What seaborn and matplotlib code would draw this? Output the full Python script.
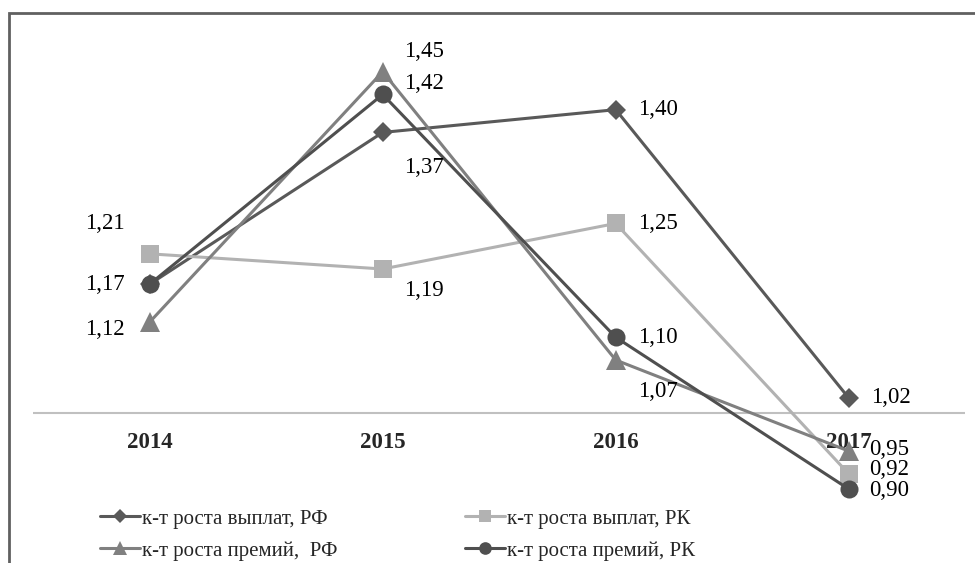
import pandas as pd
import numpy as np
import seaborn as sns
import matplotlib.pyplot as plt
from matplotlib.patches import Rectangle

# data
years = ['2014', '2015', '2016', '2017']
pay_rf = [1.17, 1.37, 1.40, 1.02]
pay_rk = [1.21, 1.19, 1.25, 0.92]
bonus_rf = [1.12, 1.45, 1.07, 0.95]
bonus_rk = [1.17, 1.42, 1.10, 0.90]
series_names = ['к-т роста выплат, РФ', 'к-т роста выплат, РК',
                'к-т роста премий,  РФ', 'к-т роста премий, РК']

sns.set_style('white')
plt.rcParams['font.family'] = ['Liberation Serif', 'DejaVu Serif']

fig = plt.figure(figsize=(9.75, 5.63), dpi=100)
ax = fig.add_axes([0.034, 0.064, 0.956, 0.876])

# style per series: color, marker, marker size
styles = [('#595959', 'D', 10),
          ('#b2b2b2', 's', 13),
          ('#808080', '^', 14),
          ('#4f4f4f', 'o', 13)]
values = [pay_rf, pay_rk, bonus_rf, bonus_rk]

x = np.arange(len(years))
for name, vals, (col, mk, ms) in zip(series_names, values, styles):
    df = pd.DataFrame({'x': x, 'y': vals})
    sns.lineplot(data=df, x='x', y='y', ax=ax, color=col, marker=mk,
                 markersize=ms, markeredgewidth=0, linewidth=2.2,
                 label=name, legend=False)

# data labels: (series index, point index, dx px, dy px, ha)
label_pos = [(0, 1, 21, 35, 'left'), (0, 2, 22, 0, 'left'), (0, 3, 22, 0, 'left'),
             (1, 0, -25, -30, 'right'), (1, 1, 21, 22, 'left'), (1, 2, 22, 0, 'left'),
             (1, 3, 20, -4, 'left'),
             (2, 0, -25, 7, 'right'), (2, 1, 21, -20, 'left'), (2, 2, 22, 31, 'left'),
             (2, 3, 20, -2, 'left'),
             (3, 0, -25, 0, 'right'), (3, 1, 21, -11, 'left'), (3, 2, 22, 0, 'left'),
             (3, 3, 20, 1, 'left')]
for si, pi, dx, dy, ha in label_pos:
    v = values[si][pi]
    ax.annotate(f'{v:.2f}'.replace('.', ','), (x[pi], v),
                xytext=(dx * 0.72, -dy * 0.72), textcoords='offset points',
                ha=ha, va='center', fontsize=16.5, color='black')

ax.axhline(1.0, color='#c0c0c0', linewidth=1.5, zorder=0)
ax.set_xlim(-0.5, 3.5)
ax.set_ylim(0.85, 1.5)
ax.set_xticks(x)
ax.set_xticklabels(years, fontsize=16.5, fontweight='bold')
ax.tick_params(axis='x', length=0, pad=0)
for lbl in ax.get_xticklabels():
    lbl.set_y(0.193)
ax.set_yticks([])
ax.set_xlabel('')
ax.set_ylabel('')
for s in ax.spines.values():
    s.set_visible(False)

# legend in two columns under the chart, filled row by row
handles, labels = ax.get_legend_handles_labels()
order = [0, 2, 1, 3]
fig.legend([handles[i] for i in order], [labels[i] for i in order],
           ncol=2, loc='upper left',
           bbox_to_anchor=(100 / 975, 1 - 509 / 563), frameon=False,
           fontsize=15, markerscale=0.7, handlelength=1.9,
           handletextpad=0.1, columnspacing=6.15, labelspacing=0.6,
           borderpad=0, borderaxespad=0)

# outer frame running past the right and bottom edges
fig.patches.append(Rectangle((9 / 975, -0.1), 1.2, 1 - 13 / 563 + 0.1,
                             transform=fig.transFigure, fill=False,
                             edgecolor='#606060', linewidth=2))

plt.savefig('out.png', dpi=100)
